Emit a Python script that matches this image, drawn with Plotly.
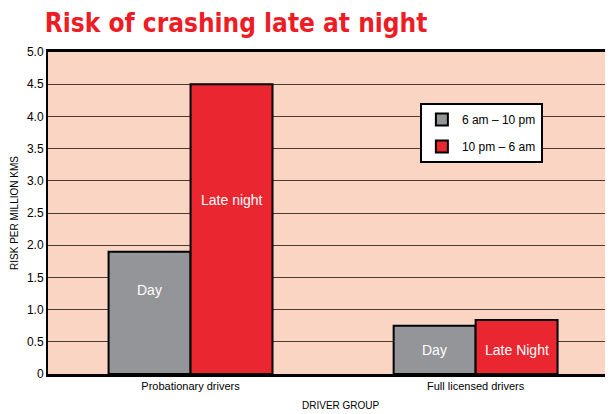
import plotly.graph_objects as go

categories = ["Probationary drivers", "Full licensed drivers"]
series_names = ["6 am – 10 pm", "10 pm – 6 am"]
day_values = [1.9, 0.75]
night_values = [4.5, 0.84]
bar_labels_day = ["Day", "Day"]
bar_labels_night = ["Late night", "Late Night"]
label_y_day = [1.3, 0.37]
label_y_night = [2.7, 0.37]
tick_vals = [0, 0.5, 1.0, 1.5, 2.0, 2.5, 3.0, 3.5, 4.0, 4.5, 5.0]
tick_text = ["0", "0.5", "1.0", "1.5", "2.0", "2.5", "3.0", "3.5", "4.0", "4.5", "5.0"]

GRAY = "#939598"
RED = "#EA2630"

fig = go.Figure()
fig.add_trace(go.Bar(x=categories, y=day_values, name=series_names[0],
                     marker=dict(color=GRAY, line=dict(color="black", width=2)),
                     legendgroup="a"))
fig.add_trace(go.Bar(x=categories, y=night_values, name=series_names[1],
                     marker=dict(color=RED, line=dict(color="black", width=2)),
                     legendgroup="b"))

for i, c in enumerate(categories):
    fig.add_annotation(x=c, y=label_y_day[i], text=bar_labels_day[i], showarrow=False,
                       xshift=-41, font=dict(color="white", size=14, family="Liberation Sans"))
    fig.add_annotation(x=c, y=label_y_night[i], text=bar_labels_night[i], showarrow=False,
                       xshift=41, font=dict(color="white", size=14, family="Liberation Sans"))

fig.add_annotation(x=0.5, xref="paper", y=0, yref="paper", yshift=-31, yanchor="middle",
                   xshift=6,
                   text="DRIVER GROUP", showarrow=False, font=dict(size=10))

fig.update_layout(
    width=613, height=406,
    margin=dict(l=40, r=0, t=44, b=40),
    paper_bgcolor="white",
    plot_bgcolor="#FBD5C4",
    barmode="group", bargap=0.425, bargroupgap=0,
    title=dict(text="<b>Risk of crashing late at night</b>", x=0.06, xanchor="left",
               y=0.985, yanchor="top",
               font=dict(family="DejaVu Sans Condensed, Roboto, sans-serif", size=26, color="#EE1C25")),
    font=dict(family="Liberation Sans", color="black", size=11),
    legend=dict(x=0.649, y=0.842, xanchor="left", yanchor="top",
                bgcolor="white", bordercolor="black", borderwidth=2,
                font=dict(size=12), tracegroupgap=8),
    showlegend=True,
)
fig.update_xaxes(range=[-0.5, 1.51], showline=True, linecolor="black", linewidth=3,
                 mirror=True, ticks="", showgrid=False,
                 tickfont=dict(size=11))
fig.update_yaxes(range=[0, 5.0], tickvals=tick_vals, ticktext=tick_text,
                 showline=True, linecolor="black", linewidth=2,
                 showgrid=True, gridcolor="#4a3a32", gridwidth=1, zeroline=False,
                 ticks="", tickfont=dict(size=12),
                 title=dict(text="RISK PER MILLION KMS", font=dict(size=10), standoff=6))

fig.write_html("out.html")
